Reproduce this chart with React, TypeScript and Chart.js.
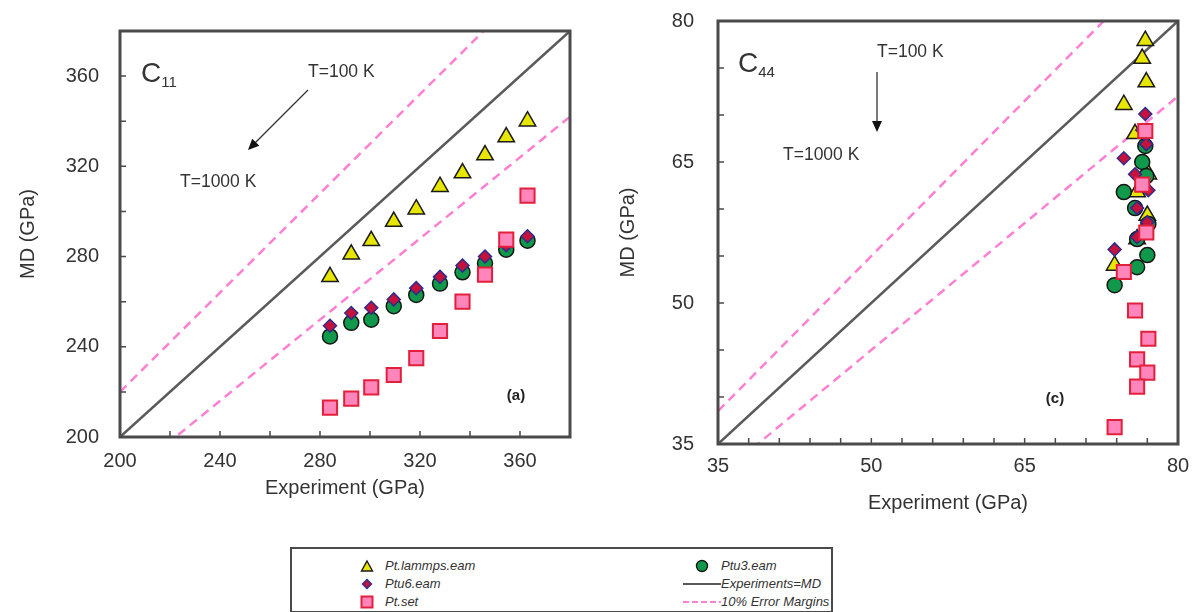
import React, { useEffect, useRef } from 'react';
import { Chart, registerables } from 'chart.js';

Chart.register(...registerables);

// ---------------- data ----------------
// (a) C11 panel
const c11Experiment = [284, 292.5, 300.5, 309.5, 318.5, 328, 337, 346, 354.5, 363];
const c11Lammps = [271, 281, 287, 295.5, 301, 311, 317, 325, 333, 340];
const c11Ptu3 = [244.6, 250.6, 252, 258, 263, 268, 273, 277, 283, 287];
const c11Ptu6 = [249.3, 255, 257.3, 261, 266, 271, 276, 280, 285, 289];
const c11PtSet = [213, 217, 222, 227.5, 235, 247, 260, 272, 287.5, 307];
const c11Range = [200, 380];
const c11TickStep = 20;
const c11LabelStep = 40;

// (c) C44 panel
const c44Experiment = [76.8, 76.5, 76.9, 74.7, 75.8, 77.1, 76.0, 77.0, 76.0, 73.8];
const c44Lammps = [77.9, 76.0, 73.5, 71.1, 68.0, 63.7, 61.8, 59.3, 56.8, 54.0];
const c44Ptu6 = [70.1, 68.4, 66.9, 65.4, 63.7, 62.0, 60.1, 58.6, 57.0, 55.7];
const c44Ptu3 = [66.7, 65.0, 63.5, 61.8, 60.1, 58.4, 56.8, 55.1, 53.8, 51.9];
const c44PtSet = [68.3, 62.6, 57.5, 53.3, 49.2, 46.2, 44.0, 42.6, 41.1, 36.8];
const c44Range = [35, 80];
const c44XTickStep = 3;
const c44YTickStep = 5;
const c44LabelStep = 15;

const errorMargin = 0.1;

const seriesNames = ['Pt.lammps.eam', 'Ptu3.eam', 'Ptu6.eam', 'Experiments=MD', 'Pt.set', '10% Error Margins'];

// ---------------- styles ----------------
const FONT = '"Liberation Sans", Arial, Helvetica, sans-serif';
const TEXT = '#333333';
const FRAME = '#4a4a4a';
const PINK = '#ff7fd2';
const DIAG = '#5a5a5a';
const TRI_FILL = '#e6e600';
const CIR_FILL = '#10994a';
const DIA_FILL = '#c4123c';
const DIA_EDGE = '#2c2c8c';
const SQ_FILL = '#ff85bb';
const SQ_EDGE = '#e2203c';

type PanelCfg = {
  left: number;
  width: number;
  height: number;
  range: number[];
  xStep: number;
  yStep: number;
  labelStep: number;
  exp: number[];
  lammps: number[];
  ptu3: number[];
  ptu6: number[];
  ptset: number[];
  yAxisW: number;
  padRight: number;
  padTop: number;
  xAxisH: number;
  yLabelPad: number;
  xLabelPad: number;
  xTitleY: number;
  yTitleX: number;
  cSub: string;
  cX: number;
  cY: number;
  tHighX: number;
  tHighY: number;
  tLowX: number;
  tLowY: number;
  arrow: number[];
  tag: string;
  tagX: number;
  tagY: number;
};

function drawArrow(ctx: CanvasRenderingContext2D, x1: number, y1: number, x2: number, y2: number) {
  const ang = Math.atan2(y2 - y1, x2 - x1);
  const head = 11;
  const hw = 5;
  ctx.save();
  ctx.strokeStyle = '#333';
  ctx.fillStyle = '#111';
  ctx.lineWidth = 1.3;
  ctx.beginPath();
  ctx.moveTo(x1, y1);
  ctx.lineTo(x2 - Math.cos(ang) * head * 0.8, y2 - Math.sin(ang) * head * 0.8);
  ctx.stroke();
  ctx.beginPath();
  ctx.moveTo(x2, y2);
  ctx.lineTo(x2 - Math.cos(ang) * head - Math.sin(ang) * hw, y2 - Math.sin(ang) * head + Math.cos(ang) * hw);
  ctx.lineTo(x2 - Math.cos(ang) * head + Math.sin(ang) * hw, y2 - Math.sin(ang) * head - Math.cos(ang) * hw);
  ctx.closePath();
  ctx.fill();
  ctx.restore();
}

function makePlugin(cfg: PanelCfg) {
  return {
    id: 'panelDecor',
    afterDraw(chart: any) {
      const ctx: CanvasRenderingContext2D = chart.ctx;
      const a = chart.chartArea;
      const xs = chart.scales.x;
      const ys = chart.scales.y;
      ctx.save();
      // inward ticks
      ctx.strokeStyle = FRAME;
      ctx.lineWidth = 1.5;
      ctx.beginPath();
      xs.ticks.forEach((t: any) => {
        const px = xs.getPixelForValue(t.value);
        ctx.moveTo(px, a.bottom);
        ctx.lineTo(px, a.bottom - 6);
      });
      ys.ticks.forEach((t: any) => {
        const py = ys.getPixelForValue(t.value);
        ctx.moveTo(a.left, py);
        ctx.lineTo(a.left + 6, py);
      });
      ctx.stroke();
      // frame
      ctx.strokeStyle = FRAME;
      ctx.lineWidth = 3;
      ctx.strokeRect(a.left, a.top, a.right - a.left, a.bottom - a.top);

      // axis titles
      ctx.fillStyle = TEXT;
      ctx.font = `20px ${FONT}`;
      ctx.textAlign = 'center';
      ctx.textBaseline = 'middle';
      ctx.fillText('Experiment (GPa)', (a.left + a.right) / 2, cfg.xTitleY);
      ctx.save();
      ctx.translate(cfg.yTitleX, (a.top + a.bottom) / 2);
      ctx.rotate(-Math.PI / 2);
      ctx.fillText('MD (GPa)', 0, 0);
      ctx.restore();

      // C label with subscript
      ctx.textAlign = 'left';
      ctx.textBaseline = 'alphabetic';
      ctx.font = `28px ${FONT}`;
      ctx.fillText('C', cfg.cX, cfg.cY);
      const cw = ctx.measureText('C').width;
      ctx.font = `15px ${FONT}`;
      ctx.fillText(cfg.cSub, cfg.cX + cw, cfg.cY + 5);

      // temperature labels
      ctx.font = `17.5px ${FONT}`;
      ctx.fillText('T=100 K', cfg.tHighX, cfg.tHighY);
      ctx.fillText('T=1000 K', cfg.tLowX, cfg.tLowY);
      drawArrow(ctx, cfg.arrow[0], cfg.arrow[1], cfg.arrow[2], cfg.arrow[3]);

      // panel tag
      ctx.font = `bold 15px ${FONT}`;
      ctx.fillStyle = '#222';
      ctx.textAlign = 'center';
      ctx.fillText(cfg.tag, cfg.tagX, cfg.tagY);
      ctx.restore();
    },
  };
}

function zeroPad(s: any) {
  s.paddingTop = 0;
  s.paddingBottom = 0;
  s.paddingLeft = 0;
  s.paddingRight = 0;
}

function buildConfig(cfg: PanelCfg): any {
  const [lo, hi] = cfg.range;
  const diag = (k: number) => [lo, hi].map((v) => ({ x: v, y: v * k }));
  const pts = (ys: number[]) => cfg.exp.map((x, i) => ({ x, y: ys[i] }));
  const lineBase = { type: 'line', pointRadius: 0, fill: false, showLine: true, tension: 0 };
  const datasets: any[] = [
    { label: seriesNames[4], data: pts(cfg.ptset), pointStyle: 'rect', pointRadius: 10, backgroundColor: SQ_FILL, borderColor: SQ_EDGE, borderWidth: 2, order: 1 },
    { label: seriesNames[2], data: pts(cfg.ptu6), pointStyle: 'rectRot', pointRadius: 6.5, backgroundColor: DIA_FILL, borderColor: DIA_EDGE, borderWidth: 1.5, order: 2 },
    { label: seriesNames[1], data: pts(cfg.ptu3), pointStyle: 'circle', pointRadius: 7.5, backgroundColor: CIR_FILL, borderColor: '#151515', borderWidth: 1.5, order: 3 },
    { label: seriesNames[0], data: pts(cfg.lammps), pointStyle: 'triangle', pointRadius: 9.5, backgroundColor: TRI_FILL, borderColor: '#1a1a1a', borderWidth: 1.5, order: 4 },
    { ...lineBase, label: seriesNames[3], data: diag(1), borderColor: DIAG, borderWidth: 2.5, order: 5 },
    { ...lineBase, label: seriesNames[5], data: diag(1 + errorMargin), borderColor: PINK, borderWidth: 2.5, borderDash: [9, 6], order: 6 },
    { ...lineBase, label: seriesNames[5] + ' ', data: diag(1 - errorMargin), borderColor: PINK, borderWidth: 2.5, borderDash: [9, 6], order: 6 },
  ];
  const labelCb = (v: any) => {
    const n = Number(v);
    return Math.abs(((n - lo) / cfg.labelStep) - Math.round((n - lo) / cfg.labelStep)) < 1e-6 ? String(Math.round(n)) : '';
  };
  const tickFont = { family: FONT, size: 20 };
  return {
    type: 'scatter',
    data: { datasets },
    options: {
      animation: false,
      responsive: false,
      maintainAspectRatio: false,
      events: [],
      layout: { padding: { top: cfg.padTop, right: cfg.padRight, left: 0, bottom: 0 } },
      plugins: { legend: { display: false }, tooltip: { enabled: false }, title: { display: false } },
      scales: {
        x: {
          type: 'linear',
          min: lo,
          max: hi,
          ticks: { stepSize: cfg.xStep, autoSkip: false, maxRotation: 0, callback: labelCb, font: tickFont, color: TEXT, padding: cfg.xLabelPad },
          grid: { display: false, drawTicks: false },
          border: { display: false },
          afterFit: (s: any) => { s.height = cfg.xAxisH; zeroPad(s); },
        },
        y: {
          type: 'linear',
          min: lo,
          max: hi,
          ticks: { stepSize: cfg.yStep, autoSkip: false, callback: labelCb, font: tickFont, color: TEXT, padding: cfg.yLabelPad },
          grid: { display: false, drawTicks: false },
          border: { display: false },
          afterFit: (s: any) => { s.width = cfg.yAxisW; zeroPad(s); },
        },
      },
    },
    plugins: [makePlugin(cfg)],
  };
}

const leftCfg: PanelCfg = {
  left: 0, width: 600, height: 525,
  range: c11Range, xStep: c11TickStep, yStep: c11TickStep, labelStep: c11LabelStep,
  exp: c11Experiment, lammps: c11Lammps, ptu3: c11Ptu3, ptu6: c11Ptu6, ptset: c11PtSet,
  yAxisW: 120, padRight: 30, padTop: 31, xAxisH: 525 - 437,
  yLabelPad: 21, xLabelPad: 12, xTitleY: 488, yTitleX: 28,
  cSub: '11', cX: 141, cY: 82,
  tHighX: 308, tHighY: 77, tLowX: 180, tLowY: 187,
  arrow: [308, 90, 248, 150],
  tag: '(a)', tagX: 516, tagY: 400,
};

const RX = 600;
const rightCfg: PanelCfg = {
  left: RX, width: 593, height: 525,
  range: c44Range, xStep: c44XTickStep, yStep: c44YTickStep, labelStep: c44LabelStep,
  exp: c44Experiment, lammps: c44Lammps, ptu3: c44Ptu3, ptu6: c44Ptu6, ptset: c44PtSet,
  yAxisW: 718 - RX, padRight: 593 - (1178 - RX), padTop: 21, xAxisH: 525 - 444,
  yLabelPad: 24, xLabelPad: 10, xTitleY: 503, yTitleX: 628 - RX,
  cSub: '44', cX: 738 - RX, cY: 72,
  tHighX: 877 - RX, tHighY: 57, tLowX: 783 - RX, tLowY: 160,
  arrow: [877 - RX, 72, 877 - RX, 132],
  tag: '(c)', tagX: 1055 - RX, tagY: 403,
};

function Panel({ cfg }: { cfg: PanelCfg }) {
  const ref = useRef<HTMLCanvasElement>(null);
  useEffect(() => {
    const chart = new Chart(ref.current as HTMLCanvasElement, buildConfig(cfg));
    return () => chart.destroy();
  }, [cfg]);
  return (
    <canvas
      ref={ref}
      width={cfg.width}
      height={cfg.height}
      style={{ position: 'absolute', left: cfg.left, top: 0, width: cfg.width, height: cfg.height }}
    />
  );
}

function Marker({ kind }: { kind: string }) {
  if (kind === 'triangle')
    return (
      <svg width="14" height="13"><polygon points="7,1.5 12.5,11.5 1.5,11.5" fill={TRI_FILL} stroke="#1a1a1a" strokeWidth="1.4" /></svg>
    );
  if (kind === 'circle')
    return (
      <svg width="14" height="14"><circle cx="7" cy="7" r="5.5" fill={CIR_FILL} stroke="#151515" strokeWidth="1.4" /></svg>
    );
  if (kind === 'diamond')
    return (
      <svg width="12" height="12"><polygon points="6,1.5 10.5,6 6,10.5 1.5,6" fill={DIA_FILL} stroke={DIA_EDGE} strokeWidth="1.4" /></svg>
    );
  if (kind === 'square')
    return (
      <svg width="14" height="14"><rect x="1.5" y="1.5" width="11" height="11" fill={SQ_FILL} stroke={SQ_EDGE} strokeWidth="2" /></svg>
    );
  if (kind === 'line')
    return (
      <svg width="38" height="6"><line x1="0" y1="3" x2="38" y2="3" stroke={DIAG} strokeWidth="2.2" /></svg>
    );
  return (
    <svg width="38" height="6"><line x1="0" y1="3" x2="38" y2="3" stroke={PINK} strokeWidth="2.2" strokeDasharray="6 3" /></svg>
  );
}

const legendKinds = ['triangle', 'circle', 'diamond', 'line', 'square', 'dash'];

function Legend() {
  const rowY = [17, 35, 53];
  const items = seriesNames.map((name, i) => {
    const col = i % 2;
    const row = Math.floor(i / 2);
    const kind = legendKinds[i];
    const markerCx = col === 0 ? 75 : 410;
    const textX = col === 0 ? 93 : 429;
    return (
      <React.Fragment key={name}>
        <div
          style={{
            position: 'absolute',
            left: markerCx,
            top: rowY[row],
            transform: 'translate(-50%, -50%)',
            lineHeight: 0,
          }}
        >
          <Marker kind={kind} />
        </div>
        <div
          style={{
            position: 'absolute',
            left: textX,
            top: rowY[row],
            transform: 'translateY(-50%)',
            fontFamily: FONT,
            fontStyle: 'italic',
            fontSize: 13,
            color: '#333',
            whiteSpace: 'nowrap',
            lineHeight: '16px',
          }}
        >
          {name}
        </div>
      </React.Fragment>
    );
  });
  return (
    <div
      style={{
        position: 'absolute',
        left: 290,
        top: 547,
        width: 543,
        height: 66,
        border: `2px solid ${FRAME}`,
        boxSizing: 'border-box',
        background: '#fff',
      }}
    >
      {items}
    </div>
  );
}

export default function App() {
  return (
    <div style={{ position: 'absolute', left: 0, top: 0, width: 1193, height: 612, background: '#fff', overflow: 'hidden' }}>
      <Panel cfg={leftCfg} />
      <Panel cfg={rightCfg} />
      <Legend />
    </div>
  );
}
